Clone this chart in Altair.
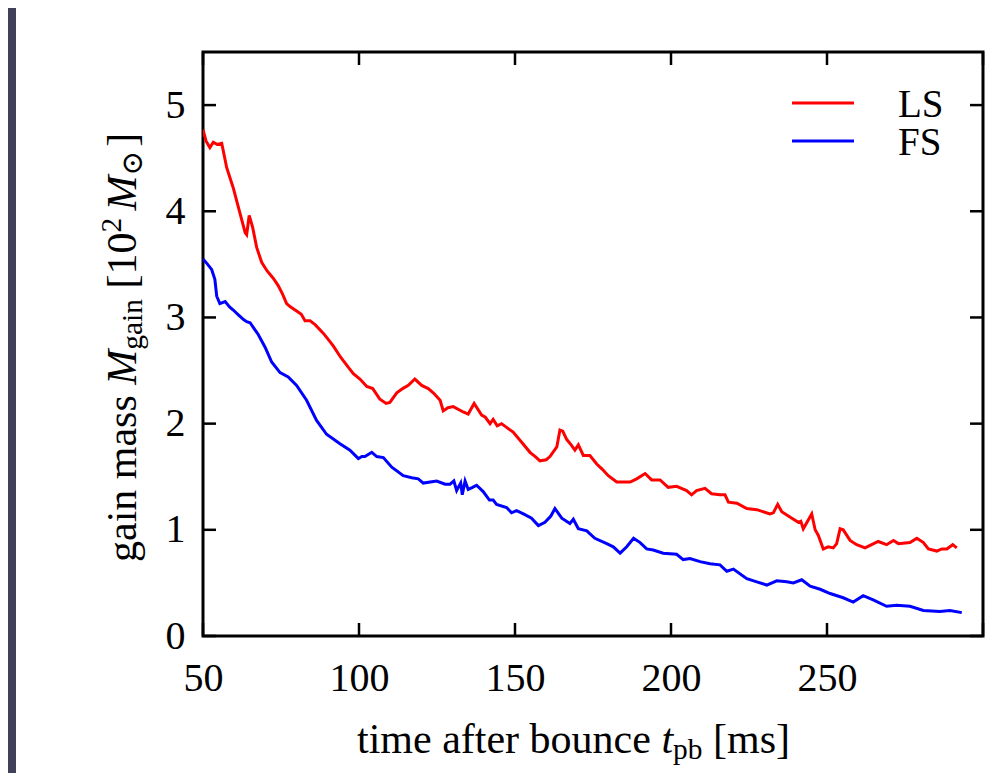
import altair as alt
import pandas as pd

# ---------------- data ----------------
series_names = ["LS", "FS"]
series_colors = ["#ff0000", "#0000ff"]

ls_t = [50, 51, 52.2, 53.3, 54.5, 56, 57.6, 59.7, 61.5, 63.5, 64, 64.8, 65.9, 67.2, 68.8,
        70.5, 72.5, 74.1, 75.5, 76.8, 78, 80, 81.5, 82.7, 84.3, 86, 88.6, 90.5, 91.8, 94,
        96.6, 98.2, 100.3, 102.5, 104.4, 106.7, 108.7, 109.9, 112.1, 114, 115.8, 117.9,
        120.1, 122.2, 123.8, 126, 127, 128.5, 130.2, 133.4, 135, 136.9, 139.3, 140.5, 142,
        143, 144.3, 145.7, 147.5, 149.4, 152, 154.8, 156.5, 158, 160, 161.2, 163.4, 164.4,
        165.3, 166.6, 168, 169.2, 170.3, 171.9, 174, 176.2, 178, 179.9, 182.6, 186.9, 189,
        191.7, 193.8, 196.5, 199.1, 201.8, 205, 206.6, 208.2, 210.9, 213, 215.7, 217.3,
        218.4, 221.1, 224.3, 227.5, 231.7, 232.8, 234.2, 235.5, 238.1, 240.8, 241.6, 242.4,
        245.1, 246.2, 247.2, 248.8, 250.4, 252, 253.1, 254.2, 255.2, 257.4, 259.5, 262.2,
        266.4, 269.1, 271.3, 272.9, 276.6, 278.8, 280.9, 282.5, 285.2, 286.8, 288.4, 290.3,
        291.6]
ls_v = [4.77, 4.66, 4.60, 4.65, 4.63, 4.64, 4.41, 4.22, 4.02, 3.80, 3.78, 3.96, 3.85, 3.66,
        3.52, 3.44, 3.37, 3.30, 3.22, 3.13, 3.10, 3.06, 3.03, 2.97, 2.97, 2.93, 2.85, 2.78,
        2.73, 2.63, 2.53, 2.47, 2.42, 2.35, 2.33, 2.23, 2.19, 2.20, 2.29, 2.33, 2.36, 2.42,
        2.36, 2.33, 2.29, 2.22, 2.12, 2.15, 2.16, 2.11, 2.09, 2.19, 2.08, 2.06, 2.00, 2.04,
        1.98, 2.00, 1.96, 1.92, 1.83, 1.73, 1.69, 1.65, 1.66, 1.69, 1.78, 1.94, 1.93, 1.85,
        1.80, 1.75, 1.80, 1.70, 1.70, 1.62, 1.57, 1.51, 1.45, 1.45, 1.48, 1.53, 1.47, 1.47,
        1.40, 1.41, 1.37, 1.33, 1.37, 1.39, 1.34, 1.33, 1.33, 1.26, 1.25, 1.20, 1.19, 1.15,
        1.16, 1.24, 1.17, 1.12, 1.07, 1.08, 1.01, 1.15, 1.00, 0.95, 0.82, 0.84, 0.83, 0.87,
        1.01, 1.00, 0.90, 0.86, 0.83, 0.89, 0.86, 0.90, 0.87, 0.88, 0.92, 0.88, 0.82, 0.80,
        0.82, 0.82, 0.86, 0.83]

fs_t = [50, 51.5, 52.8, 53.8, 54.4, 55.4, 57.1, 58.5, 59.7, 61.5, 63, 64, 65.1, 66.5, 67.7,
        69.9, 72, 74.7, 77.3, 80, 83.2, 86.4, 89.6, 93.9, 97.1, 99.8, 100.9, 101.9, 104.1,
        105.7, 107.8, 110.5, 114.2, 116.9, 119, 120.6, 124.9, 127.6, 129.2, 130.4, 131.3,
        132.6, 133.1, 134, 135, 136.4, 137.7, 139.8, 141.8, 143, 144.1, 147.3, 148.9, 150.5,
        152.7, 155.3, 157.5, 159.6, 161.5, 162.8, 165, 167.6, 168.7, 170.3, 173, 175.6,
        179.4, 181.5, 183.7, 185.8, 188, 190.1, 192.2, 194.3, 197.5, 201.8, 203.9, 206.1,
        209.3, 212.5, 215.7, 217.9, 220, 224.3, 227.5, 230.7, 233.9, 237.1, 239.2, 241.9,
        244.6, 247.8, 251, 255.2, 258.4, 261.6, 264.8, 269.1, 272.3, 276.6, 280.9, 286.2,
        289.4, 293.2]
fs_v = [3.55, 3.50, 3.45, 3.36, 3.20, 3.13, 3.15, 3.10, 3.07, 3.02, 2.98, 2.96, 2.95, 2.89,
        2.84, 2.72, 2.58, 2.48, 2.44, 2.36, 2.22, 2.03, 1.90, 1.81, 1.75, 1.67, 1.69, 1.69,
        1.73, 1.69, 1.68, 1.59, 1.51, 1.49, 1.48, 1.44, 1.46, 1.43, 1.43, 1.46, 1.37, 1.44,
        1.33, 1.46, 1.38, 1.40, 1.42, 1.36, 1.28, 1.28, 1.24, 1.21, 1.16, 1.18, 1.15, 1.11,
        1.04, 1.07, 1.13, 1.20, 1.11, 1.06, 1.10, 1.01, 0.99, 0.92, 0.87, 0.84, 0.78, 0.84,
        0.92, 0.88, 0.82, 0.81, 0.78, 0.77, 0.72, 0.73, 0.70, 0.68, 0.67, 0.61, 0.63, 0.54,
        0.51, 0.48, 0.52, 0.51, 0.50, 0.53, 0.47, 0.44, 0.40, 0.36, 0.32, 0.38, 0.34, 0.28,
        0.29, 0.28, 0.24, 0.23, 0.24, 0.22]

x_ticks = [50, 100, 150, 200, 250, 300]
x_labels = [50, 100, 150, 200, 250]
y_ticks = [0, 1, 2, 3, 4, 5]
x_domain = [50, 300]
y_domain = [0, 5.5]

# ---------------- layout / style ----------------
SERIF = "Liberation Serif, Times New Roman, DejaVu Serif, serif"
OX, OY = 203, 52          # page position of the plot area's top-left corner
W, H = 780, 584           # plot area size
PAD = {"left": OX - 8, "top": OY - 8, "right": 12, "bottom": 137}
TICK = 13

df = pd.concat([
    pd.DataFrame({"series": "LS", "t": ls_t, "v": ls_v}),
    pd.DataFrame({"series": "FS", "t": fs_t, "v": fs_v}),
], ignore_index=True)

color_scale = alt.Scale(domain=series_names, range=series_colors)
x_axis = alt.Axis(values=x_labels, title=None, ticks=False, tickSize=0, domain=False,
                  grid=False, labelPadding=22, labelFontSize=40, labelFont=SERIF,
                  labelColor="black", labelFlush=False, labelOverlap=False)
y_axis = alt.Axis(values=y_ticks, title=None, ticks=False, tickSize=0, domain=False,
                  grid=False, labelPadding=18, labelFontSize=40, labelFont=SERIF,
                  labelColor="black", labelFlush=False, labelOverlap=False)
x_enc = alt.X("t:Q", scale=alt.Scale(domain=x_domain, nice=False, zero=False), axis=x_axis)
y_enc = alt.Y("v:Q", scale=alt.Scale(domain=y_domain, nice=False, zero=False), axis=y_axis)

lines = alt.Chart(df).mark_line(strokeWidth=3, clip=True).encode(
    x=x_enc, y=y_enc,
    color=alt.Color("series:N", scale=color_scale, legend=None),
)

xt = pd.DataFrame({"t": x_ticks})
yt = pd.DataFrame({"v": y_ticks})
rule_style = dict(color="black", strokeWidth=2.5)
tick_layers = [
    alt.Chart(xt).mark_rule(**rule_style).encode(x=x_enc, y=alt.value(H), y2=alt.value(H - TICK)),
    alt.Chart(xt).mark_rule(**rule_style).encode(x=x_enc, y=alt.value(0), y2=alt.value(TICK)),
    alt.Chart(yt).mark_rule(**rule_style).encode(y=y_enc, x=alt.value(0), x2=alt.value(TICK)),
    alt.Chart(yt).mark_rule(**rule_style).encode(y=y_enc, x=alt.value(W), x2=alt.value(W - TICK)),
]

# ---------------- text helpers (titles with sub/superscripts) ----------------
EM = {' ': .25, 'a': .444, 'b': .5, 'c': .444, 'e': .444, 'f': .333, 'g': .5, 'i': .278,
      'm': .778, 'n': .5, 'o': .5, 'p': .5, 'r': .333, 's': .389, 't': .278, 'u': .5,
      '[': .333, ']': .333, '0': .5, '1': .5, '2': .5, 'M': .833, '\u2299': .84}


def em(s):
    return sum(EM.get(c, .5) for c in s)


def txt(label, px, py, size, style="normal", angle=0):
    return alt.Chart(alt.Data(values=[{"s": label}])).mark_text(
        align="left", baseline="alphabetic", font=SERIF, fontSize=size,
        fontStyle=style, angle=angle, color="black",
    ).encode(x=alt.value(px - OX), y=alt.value(py - OY), text="s:N")


def title_layers(segments, start, base, F, vertical=False):
    """segments: (text, italic, size factor, shift); shift > 0 = below the baseline.
    A leading space in a segment is turned into an offset of its start."""
    out = []
    pos = start
    for text, italic, scale, shift in segments:
        size = F * scale
        style = "italic" if italic else "normal"
        lead = len(text) - len(text.lstrip(" "))
        body = text.strip(" ")
        adv_lead = lead * EM[' '] * size
        if body:
            if vertical:
                out.append(txt(body, base + shift, pos - adv_lead, size, style, angle=270))
            else:
                out.append(txt(body, pos + adv_lead, base + shift, size, style))
        adv = em(text) * size
        pos = pos - adv if vertical else pos + adv
    return out


F_T = 42
x_title = title_layers([
    ("time after bounce ", False, 1.0, 0),
    ("t", True, 1.0, 0),
    ("pb", False, 0.7, 6),
    (" [ms]", False, 1.0, 0),
], start=357, base=753, F=F_T)

y_title = title_layers([
    ("gain mass ", False, 1.0, 0),
    ("M", True, 1.0, 0),
    ("gain", False, 0.7, 6),
    (" [10", False, 1.0, 0),
    ("2", False, 0.7, -15),
    (" ", False, 0.7, 0),
    ("M", True, 1.0, 0),
    ("\u2299", False, 0.7, 6),
    (" ", False, 0.4, 0),
    ("]", False, 1.0, 0),
], start=562, base=136, F=F_T, vertical=True)

# ---------------- legend (drawn by hand, colours from the same scale) ----------------
legend_layers = []
for i, name in enumerate(series_names):
    yy = 103 + 38 * i
    d = alt.Data(values=[{"series": name}])
    legend_layers.append(
        alt.Chart(d).mark_rule(strokeWidth=3).encode(
            x=alt.value(792 - OX), x2=alt.value(854 - OX), y=alt.value(yy - OY),
            color=alt.Color("series:N", scale=color_scale, legend=None)))
    legend_layers.append(txt(name, 898, yy + 14, 39))

# dark strip of the page border on the left
strip = alt.Chart(alt.Data(values=[{"k": 1}])).mark_rect(color="#404058").encode(
    x=alt.value(8 - OX), x2=alt.value(16 - OX), y=alt.value(8 - OY), y2=alt.value(773 - OY))

chart = alt.layer(
    strip, lines, *tick_layers, *legend_layers, *x_title, *y_title
).properties(
    width=W, height=H,
    autosize=alt.AutoSizeParams(type="none"),
    padding=PAD,
    background="white",
).configure_view(
    stroke="black", strokeWidth=3, fill="white"
)

chart.save("out.html", embed_options={"renderer": "svg", "actions": False})
